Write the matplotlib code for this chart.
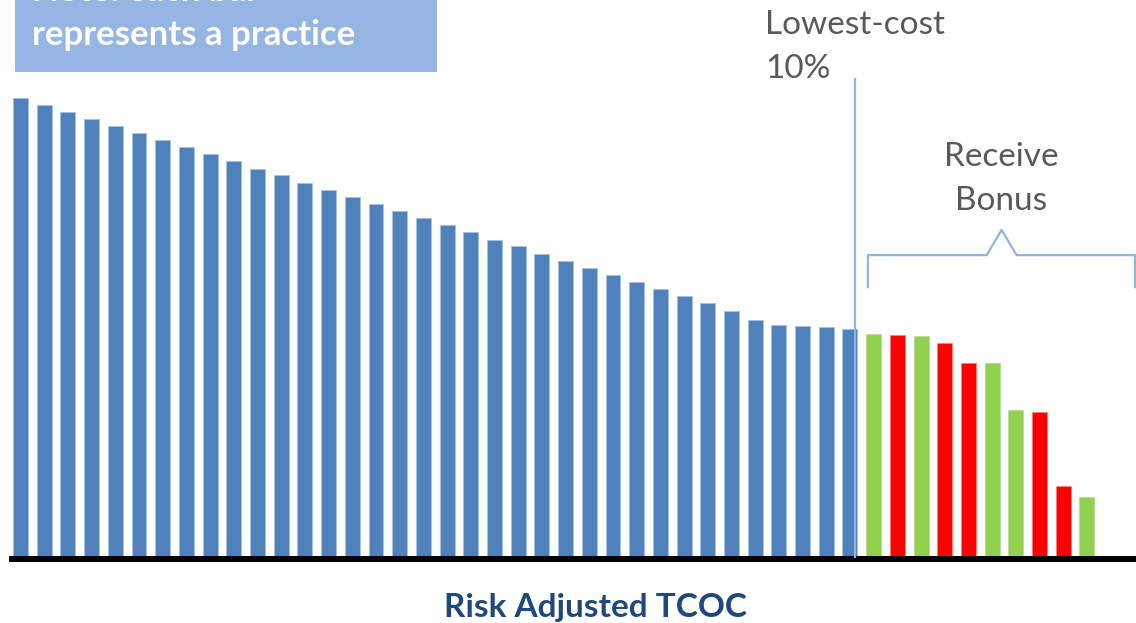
import numpy as np
import matplotlib.pyplot as plt
from matplotlib.patches import Rectangle

# risk adjusted total cost of care per practice, highest to lowest
tcoc_rest = [100.0, 98.5, 96.9, 95.4, 93.9, 92.4, 90.8, 89.3, 87.8, 86.2,
             84.6, 83.1, 81.4, 79.9, 78.4, 76.9, 75.3, 73.8, 72.2, 70.7,
             69.1, 67.6, 66.0, 64.4, 62.9, 61.4, 59.8, 58.3, 56.8, 55.2,
             53.5, 51.5, 50.4, 50.2, 50.0, 49.6]
tcoc_low10 = [48.5, 48.2, 48.0, 46.4, 42.1, 42.1, 31.9, 31.4, 15.3, 12.8]
bonus = [True, False, True, False, False, True, True, False, False, True]

blue = '#4F81BD'
green = '#92D050'
red = '#FF0000'
pale = '#8EB4E3'
grey = '#595959'

plt.rcParams['font.family'] = ['Lato', 'DejaVu Sans']

fig = plt.figure(figsize=(11.36, 6.23), dpi=100)
ax = fig.add_axes([0, 0, 1, 1])
ax.set_xlim(-0.865, 47.07)
ax.set_ylim(-14.63, 121.4)
ax.axis('off')

n_rest = len(tcoc_rest)
x_rest = np.arange(n_rest)
x_low = np.arange(n_rest, n_rest + len(tcoc_low10))
w = 0.63

ax.bar(x_rest, tcoc_rest, width=w, color=blue, edgecolor='#A9C1E0', lw=0.6)
cols = [green if b else red for b in bonus]
edges = ['#B5DE8F' if b else '#FF8080' for b in bonus]
ax.bar(x_low, tcoc_low10, width=w, color=cols, edgecolor=edges, lw=0.6)

# baseline
ax.add_patch(Rectangle((-0.48, -1.31), 48, 1.31, color='black', lw=0, zorder=3))

# cut-off for lowest-cost 10%
cut = n_rest - 1 + 0.23
ax.plot([cut, cut], [-0.2, 104.1], color=pale, lw=1.6, zorder=4)

# brace over the bonus group
bx = [35.76, 35.76, 40.77, 41.40, 42.03, 47.03, 47.03]
by = [58.7, 65.7, 65.7, 71.2, 65.7, 65.7, 58.7]
ax.plot(bx, by, color=pale, lw=1.6)

W, H = 1136, 623
def fx(px):
    return px / W
def fy(py):
    return 1 - py / H

fig.text(fx(765), fy(25), 'Lowest-cost', fontsize=24, color=grey, va='center')
fig.text(fx(765), fy(69), '10%', fontsize=24, color=grey, va='center')
fig.text(fx(1001), fy(157), 'Receive', fontsize=24, color=grey, va='center', ha='center')
fig.text(fx(1001), fy(201), 'Bonus', fontsize=24, color=grey, va='center', ha='center')

# note box
fig.patches.append(Rectangle((fx(15), fy(72)), fx(437 - 15), 72 / H,
                             transform=fig.transFigure, color='#95B6E3', lw=0))
fig.text(fx(32), fy(-9), 'Note: each bar', fontsize=25, color='white',
         fontweight='bold', va='center')
fig.text(fx(32), fy(35), 'represents a practice', fontsize=25, color='white',
         fontweight='bold', va='center')

fig.text(fx(596), fy(607), 'Risk Adjusted TCOC', fontsize=24, color='#1F497D',
         fontweight='bold', va='center', ha='center')

plt.savefig('out.png', dpi=100)
